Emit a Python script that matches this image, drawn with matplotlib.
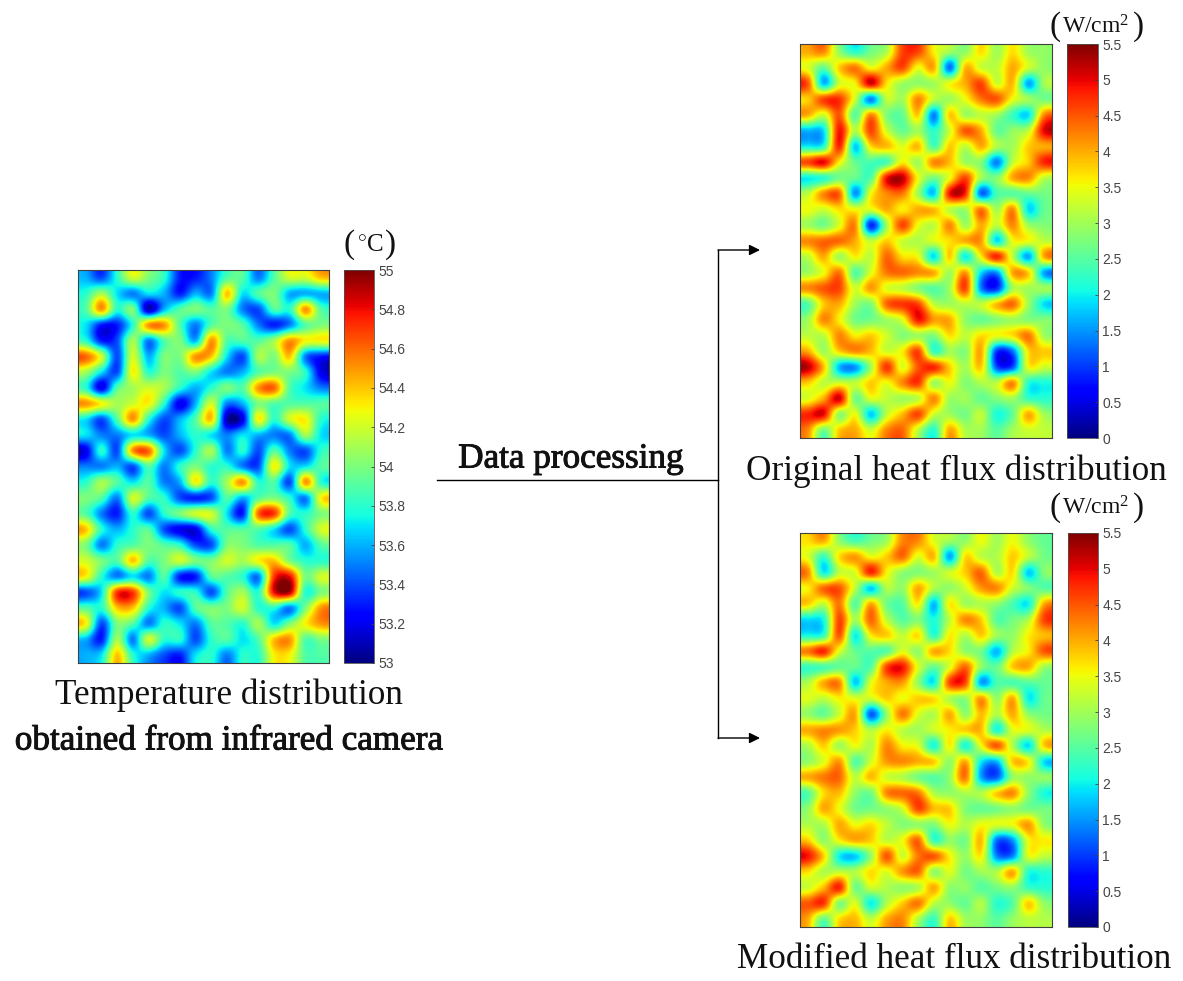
import numpy as np
from matplotlib import pyplot as plt
from matplotlib import patheffects as pe

plt.rcParams['font.family'] = ['Liberation Serif', 'DejaVu Serif']
plt.rcParams['mathtext.fontset'] = 'custom'
plt.rcParams['mathtext.rm'] = 'Liberation Serif'

W, H = 1183, 981

# temperature, 25 rows of 16 cells (top row first)
temperature = [
    [53.6, 53.4, 53.8, 54.2, 54.0, 53.8, 53.3, 53.3, 53.5, 53.9, 53.9, 53.5, 53.9, 54.2, 54.2, 54.4],
    [53.8, 54.1, 53.7, 53.5, 53.7, 53.6, 53.3, 53.6, 53.5, 54.4, 53.7, 53.9, 54.0, 53.6, 53.6, 53.6],
    [53.9, 54.5, 53.8, 54.0, 53.1, 53.6, 53.9, 54.0, 53.9, 54.0, 53.5, 53.4, 53.9, 53.8, 54.5, 53.9],
    [53.7, 53.3, 53.3, 53.8, 54.5, 54.5, 53.9, 53.5, 53.9, 54.0, 53.9, 53.5, 53.3, 53.5, 53.9, 54.0],
    [53.8, 53.3, 53.4, 54.1, 53.5, 53.9, 54.0, 53.6, 54.5, 53.9, 53.9, 53.9, 54.1, 54.5, 54.3, 54.3],
    [54.6, 54.2, 53.4, 54.2, 53.6, 54.0, 54.0, 54.5, 54.4, 53.7, 53.4, 54.1, 54.0, 54.4, 53.5, 53.3],
    [54.1, 53.7, 53.4, 54.3, 53.8, 54.0, 53.9, 54.0, 53.7, 53.5, 53.6, 53.9, 54.0, 54.0, 53.8, 53.2],
    [53.8, 53.2, 53.9, 54.1, 54.2, 54.1, 53.8, 53.6, 53.8, 54.0, 53.9, 54.5, 54.6, 53.9, 53.7, 53.5],
    [54.5, 54.3, 54.1, 54.2, 54.3, 53.8, 53.2, 53.6, 54.2, 53.5, 53.6, 54.0, 53.9, 53.9, 53.9, 53.9],
    [53.7, 53.4, 53.9, 54.5, 53.8, 53.4, 53.6, 53.9, 54.4, 53.1, 53.2, 54.3, 53.8, 54.2, 54.3, 53.8],
    [53.7, 53.5, 53.5, 53.7, 53.6, 53.4, 53.6, 53.8, 53.7, 53.5, 53.7, 53.6, 53.5, 53.5, 54.1, 53.7],
    [53.2, 53.8, 53.4, 54.5, 54.6, 53.7, 53.4, 53.8, 54.1, 53.5, 53.8, 53.4, 53.9, 53.5, 53.4, 53.8],
    [53.5, 53.5, 53.6, 53.4, 53.9, 53.5, 53.8, 54.0, 53.8, 53.8, 53.5, 53.4, 54.3, 53.7, 53.7, 53.9],
    [53.8, 54.1, 53.9, 53.7, 53.9, 53.5, 53.6, 54.3, 53.8, 54.1, 54.5, 53.8, 53.9, 53.4, 54.5, 53.8],
    [54.0, 53.9, 53.5, 54.2, 53.9, 53.8, 53.4, 53.3, 53.4, 53.9, 53.6, 53.9, 54.0, 53.8, 53.5, 54.3],
    [53.9, 53.5, 53.3, 53.8, 53.4, 53.8, 54.0, 54.2, 54.2, 53.7, 53.3, 54.6, 54.7, 53.9, 53.8, 54.0],
    [54.4, 53.8, 53.6, 53.8, 53.9, 53.4, 53.2, 53.2, 53.8, 53.9, 53.9, 53.9, 53.7, 53.4, 53.8, 54.2],
    [54.0, 53.5, 53.8, 53.9, 54.0, 53.9, 53.8, 53.4, 53.4, 54.0, 54.0, 53.9, 53.9, 53.9, 53.6, 53.9],
    [54.2, 54.0, 53.9, 54.4, 53.9, 54.0, 54.2, 54.0, 54.0, 54.2, 54.1, 54.3, 54.4, 54.0, 53.8, 53.8],
    [54.3, 53.8, 53.5, 53.7, 53.5, 53.9, 53.3, 53.3, 53.9, 53.9, 53.8, 53.5, 54.7, 54.8, 54.0, 54.2],
    [53.4, 53.7, 54.7, 54.7, 54.0, 53.7, 53.8, 53.8, 53.4, 53.9, 54.1, 53.8, 54.8, 54.9, 53.8, 54.0],
    [53.9, 53.8, 54.4, 54.4, 53.8, 53.6, 53.4, 53.9, 54.0, 54.0, 54.2, 53.8, 53.8, 53.5, 54.0, 54.5],
    [54.3, 53.4, 54.0, 53.9, 53.5, 53.8, 53.7, 53.5, 53.9, 53.9, 53.8, 54.1, 53.7, 54.0, 54.3, 54.5],
    [53.6, 53.3, 54.1, 53.5, 54.2, 53.8, 53.8, 53.4, 53.8, 53.9, 53.7, 53.9, 54.4, 54.5, 53.9, 54.0],
    [53.6, 53.7, 54.4, 53.8, 53.6, 53.4, 53.3, 53.7, 53.8, 53.5, 53.8, 53.8, 54.3, 54.3, 53.9, 53.9],
]

original_flux = [
    [4.0, 4.2, 2.9, 2.2, 2.7, 3.1, 4.6, 4.6, 3.6, 3.0, 2.9, 3.7, 3.0, 3.7, 3.0, 2.9],
    [3.4, 2.6, 3.8, 4.3, 3.5, 4.0, 4.6, 3.5, 4.0, 1.3, 3.9, 3.3, 3.2, 4.0, 3.3, 2.9],
    [4.5, 1.7, 3.3, 3.6, 5.1, 3.7, 3.0, 2.9, 3.0, 3.5, 4.0, 4.6, 3.3, 3.9, 1.6, 3.0],
    [3.8, 4.6, 4.7, 3.3, 1.4, 3.2, 3.0, 4.2, 3.2, 3.0, 3.5, 4.3, 4.5, 3.5, 3.0, 2.7],
    [4.0, 3.3, 4.5, 2.5, 4.2, 2.8, 2.6, 3.8, 1.4, 3.8, 3.0, 3.2, 3.0, 2.3, 1.9, 4.2],
    [1.7, 1.9, 4.9, 3.1, 4.6, 3.3, 2.6, 3.0, 2.2, 3.3, 4.5, 4.0, 2.6, 2.9, 3.2, 5.0],
    [2.0, 2.2, 4.8, 1.8, 3.7, 3.9, 3.4, 3.9, 2.4, 3.8, 3.2, 4.0, 3.1, 3.0, 3.8, 4.0],
    [4.6, 5.0, 3.6, 2.6, 2.4, 2.4, 3.6, 3.0, 4.2, 3.9, 3.0, 2.8, 1.4, 3.2, 3.8, 4.8],
    [2.0, 2.2, 2.7, 2.6, 2.5, 4.9, 5.2, 3.5, 2.7, 3.5, 4.6, 3.0, 2.8, 4.0, 4.2, 3.2],
    [3.2, 4.2, 4.4, 1.5, 3.5, 4.2, 4.3, 3.0, 1.8, 4.9, 4.8, 1.3, 2.4, 2.5, 2.6, 2.7],
    [3.5, 3.3, 3.7, 3.5, 3.4, 4.0, 3.6, 4.0, 3.9, 3.2, 3.0, 4.3, 3.0, 4.2, 1.9, 2.6],
    [3.0, 2.7, 3.4, 4.2, 0.9, 3.0, 4.6, 3.5, 3.2, 4.2, 3.0, 4.0, 3.2, 4.2, 3.0, 2.8],
    [4.2, 4.4, 4.4, 4.0, 3.2, 3.8, 3.3, 3.1, 3.4, 3.7, 4.0, 4.1, 1.9, 3.5, 3.5, 3.2],
    [3.2, 4.0, 3.0, 3.6, 3.2, 4.4, 3.7, 3.5, 1.9, 3.8, 2.0, 3.6, 4.8, 3.2, 1.6, 4.0],
    [3.0, 3.5, 4.3, 2.5, 3.4, 4.3, 4.4, 4.2, 4.0, 3.0, 4.1, 1.9, 1.5, 4.0, 3.8, 1.6],
    [4.2, 4.5, 4.6, 3.3, 4.1, 3.4, 3.2, 2.8, 2.5, 3.0, 4.6, 1.4, 0.9, 3.0, 3.0, 3.0],
    [2.5, 3.8, 4.0, 3.0, 2.8, 4.4, 4.7, 4.6, 3.2, 3.0, 3.2, 3.2, 3.9, 4.4, 3.0, 1.9],
    [3.0, 4.2, 3.6, 2.7, 2.7, 3.0, 3.4, 4.9, 4.1, 4.0, 2.9, 2.6, 2.8, 3.0, 2.8, 2.8],
    [3.2, 3.2, 4.2, 3.6, 3.8, 3.3, 2.8, 3.0, 2.8, 3.7, 3.2, 3.7, 3.5, 3.7, 4.3, 3.0],
    [4.0, 3.0, 3.8, 4.2, 3.9, 3.3, 3.6, 4.6, 2.3, 3.0, 2.8, 4.0, 1.0, 1.3, 3.7, 3.8],
    [5.2, 3.9, 1.7, 1.5, 3.0, 4.7, 3.4, 4.5, 4.8, 3.8, 3.0, 3.8, 1.1, 1.1, 3.5, 3.3],
    [3.8, 3.2, 3.3, 3.2, 3.8, 3.5, 4.2, 4.7, 3.0, 3.5, 2.8, 3.1, 3.2, 4.2, 2.2, 2.1],
    [3.4, 4.0, 5.1, 2.7, 3.4, 3.2, 3.0, 3.2, 4.2, 3.0, 3.0, 2.6, 2.8, 3.0, 2.3, 2.2],
    [4.8, 5.0, 2.9, 3.5, 1.8, 3.2, 3.9, 4.6, 3.3, 3.0, 2.7, 3.2, 2.1, 2.6, 4.0, 3.0],
    [4.2, 2.7, 3.8, 4.0, 3.3, 4.2, 4.4, 3.2, 2.2, 4.0, 3.1, 3.0, 2.5, 3.0, 3.3, 3.2],
]

modified_flux = [
    [3.7, 4.0, 2.9, 2.4, 2.7, 3.0, 4.2, 4.2, 3.4, 3.0, 2.9, 3.5, 3.0, 3.5, 2.9, 2.6],
    [3.4, 2.3, 3.7, 4.1, 3.5, 3.8, 4.4, 3.4, 3.9, 1.6, 3.7, 3.2, 3.1, 3.8, 3.2, 2.7],
    [4.2, 2.0, 3.2, 3.4, 4.8, 3.6, 2.9, 2.8, 3.0, 3.3, 3.8, 4.4, 3.1, 3.7, 1.8, 2.8],
    [3.6, 4.4, 4.5, 3.2, 1.8, 3.1, 2.9, 4.0, 3.1, 2.9, 3.3, 4.1, 4.2, 3.3, 2.8, 2.5],
    [3.8, 3.2, 4.3, 2.5, 4.0, 2.7, 2.5, 3.6, 1.7, 3.6, 3.0, 3.1, 2.9, 2.4, 2.0, 4.0],
    [1.9, 2.1, 4.6, 3.0, 4.4, 3.2, 2.5, 2.8, 2.1, 3.2, 4.2, 3.8, 2.5, 2.7, 3.1, 4.6],
    [2.1, 2.3, 4.5, 2.0, 3.6, 3.8, 3.2, 3.7, 2.2, 3.6, 3.1, 3.8, 3.0, 2.9, 3.6, 3.9],
    [4.3, 4.8, 3.4, 2.6, 2.5, 2.5, 3.4, 2.9, 4.0, 3.7, 2.9, 2.7, 1.7, 3.1, 3.6, 4.5],
    [2.3, 2.4, 2.6, 2.6, 2.5, 4.6, 4.9, 3.4, 2.6, 3.4, 4.4, 2.9, 2.6, 3.8, 4.0, 3.0],
    [3.1, 4.0, 4.2, 1.8, 3.4, 4.0, 4.1, 2.9, 2.0, 4.6, 4.6, 1.6, 2.4, 2.4, 2.5, 2.6],
    [3.4, 3.2, 3.6, 3.4, 3.3, 3.8, 3.5, 3.8, 3.7, 3.1, 2.9, 4.1, 2.9, 4.0, 2.0, 2.6],
    [2.9, 2.6, 3.3, 4.0, 1.2, 2.9, 4.3, 3.4, 3.1, 4.0, 2.9, 3.9, 3.1, 4.0, 2.9, 2.7],
    [4.0, 4.2, 4.1, 3.8, 3.1, 3.6, 3.2, 3.0, 3.3, 3.6, 3.8, 3.9, 2.1, 3.4, 3.4, 3.1],
    [3.1, 3.8, 3.0, 3.5, 3.1, 4.2, 3.6, 3.4, 2.1, 3.6, 2.1, 3.5, 4.5, 3.1, 1.9, 3.8],
    [2.9, 3.4, 4.1, 2.5, 3.3, 4.1, 4.2, 4.0, 3.8, 2.9, 4.0, 2.0, 1.7, 3.8, 3.6, 1.9],
    [4.0, 4.3, 4.4, 3.2, 3.9, 3.3, 3.1, 2.7, 2.5, 2.9, 4.3, 1.6, 1.2, 2.9, 2.9, 2.9],
    [2.5, 3.7, 3.9, 2.9, 2.7, 4.2, 4.4, 4.3, 3.1, 2.9, 3.1, 3.1, 3.8, 4.2, 2.9, 2.1],
    [2.9, 4.0, 3.5, 2.7, 2.7, 2.9, 3.3, 4.6, 3.9, 3.8, 2.8, 2.6, 2.7, 2.9, 2.7, 2.7],
    [3.1, 3.1, 4.0, 3.5, 3.7, 3.2, 2.8, 2.9, 2.8, 3.5, 3.1, 3.5, 3.4, 3.5, 4.1, 2.9],
    [3.8, 2.9, 3.6, 4.0, 3.8, 3.2, 3.5, 4.4, 2.3, 2.9, 2.7, 3.9, 1.3, 1.5, 3.5, 3.6],
    [4.9, 3.8, 2.0, 1.8, 2.9, 4.5, 3.3, 4.3, 4.5, 3.6, 2.9, 3.6, 1.4, 1.4, 3.4, 3.2],
    [3.7, 3.1, 3.2, 3.1, 3.7, 3.4, 4.1, 4.4, 2.9, 3.4, 2.7, 3.0, 3.1, 4.0, 2.2, 2.2],
    [3.3, 3.9, 4.8, 2.7, 3.3, 3.1, 2.9, 3.1, 4.0, 2.9, 2.9, 2.5, 2.7, 2.9, 2.3, 2.2],
    [4.5, 4.7, 2.8, 3.4, 2.0, 3.1, 3.8, 4.3, 3.2, 2.9, 2.6, 3.1, 2.2, 2.5, 3.8, 2.9],
    [4.0, 2.6, 3.7, 3.9, 3.2, 4.0, 4.2, 3.1, 2.3, 3.8, 3.0, 2.9, 2.5, 2.9, 3.2, 3.1],
]

temp_ticks = [53, 53.2, 53.4, 53.6, 53.8, 54, 54.2, 54.4, 54.6, 54.8, 55]
temp_labels = ['53', '53.2', '53.4', '53.6', '53.8', '54', '54.2', '54.4', '54.6', '54.8', '55']
flux_ticks = [0, 0.5, 1, 1.5, 2, 2.5, 3, 3.5, 4, 4.5, 5, 5.5]
flux_labels = ['0', '0.5', '1', '1.5', '2', '2.5', '3', '3.5', '4', '4.5', '5', '5.5']

fig = plt.figure(figsize=(W / 100, H / 100), dpi=100)


def px_axes(x0, y0, x1, y1):
    # pixel box of the reference, y measured from the top
    return fig.add_axes([x0 / W, 1 - y1 / H, (x1 - x0) / W, (y1 - y0) / H])


def heatmap(data, box, cbox, vmin, vmax, ticks, labels):
    ax = px_axes(*box)
    im = ax.imshow(data, cmap='jet', vmin=vmin, vmax=vmax, aspect='auto', interpolation='catrom')
    ax.set_xticks([])
    ax.set_yticks([])
    for s in ax.spines.values():
        s.set_linewidth(0.8)
        s.set_color('#404040')
    cax = px_axes(*cbox)
    cb = fig.colorbar(im, cax=cax)
    cb.set_ticks(ticks)
    cb.set_ticklabels(labels, fontfamily='Liberation Sans', fontsize=10, color='#454545')
    cb.ax.tick_params(length=2, width=0.6, color='#404040', direction='in', pad=3)
    cb.outline.set_linewidth(0.6)
    cb.outline.set_edgecolor('#505050')


def label(x, y, s, size=25.3, heavy=False):
    t = fig.text(x / W, 1 - y / H, s, fontsize=size, ha='center', va='center', color='#111111')
    if heavy:
        # the captions in the reference are doubled, not a true bold
        t.set_path_effects([pe.withStroke(linewidth=0.7, foreground='#111111')])


def units(cx, y, left, right, s, size, paren):
    label(cx, y, s, size=size)
    label(left, y, '(', size=paren)
    label(right, y, ')', size=paren)


heatmap(temperature, (78, 270, 329, 663), (344, 270, 374, 663), 53, 55, temp_ticks, temp_labels)
heatmap(original_flux, (800, 44, 1052, 438), (1067, 44, 1098, 438), 0, 5.5, flux_ticks, flux_labels)
heatmap(modified_flux, (800, 533, 1052, 927), (1068, 533, 1098, 927), 0, 5.5, flux_ticks, flux_labels)

label(229, 695, 'Temperature distribution')
label(229, 741, 'obtained from infrared camera', heavy=True)
label(571, 459, 'Data processing', heavy=True)
label(956, 471, 'Original heat flux distribution')
label(954, 959, 'Modified heat flux distribution')
units(370, 245, 349, 391, r'$\mathrm{{}^{\circ}C}$', 18, 24)
units(1096, 27, 1055, 1139, r'$\mathrm{W/cm^2}$', 17, 24)
units(1096, 508, 1055, 1139, r'$\mathrm{W/cm^2}$', 17, 24)

# connector from the text to the two result panels
overlay = fig.add_axes([0, 0, 1, 1])
overlay.set_xlim(0, W)
overlay.set_ylim(H, 0)
overlay.axis('off')
overlay.plot([437, 718], [480, 480], color='black', lw=1)
overlay.plot([718, 718], [250, 738], color='black', lw=1)
for y in [250, 738]:
    overlay.annotate('', xy=(760, y), xytext=(718, y),
                     arrowprops=dict(arrowstyle='-|>', color='black', lw=1, mutation_scale=16, shrinkA=0, shrinkB=0))

fig.savefig('out.png', dpi=100)
